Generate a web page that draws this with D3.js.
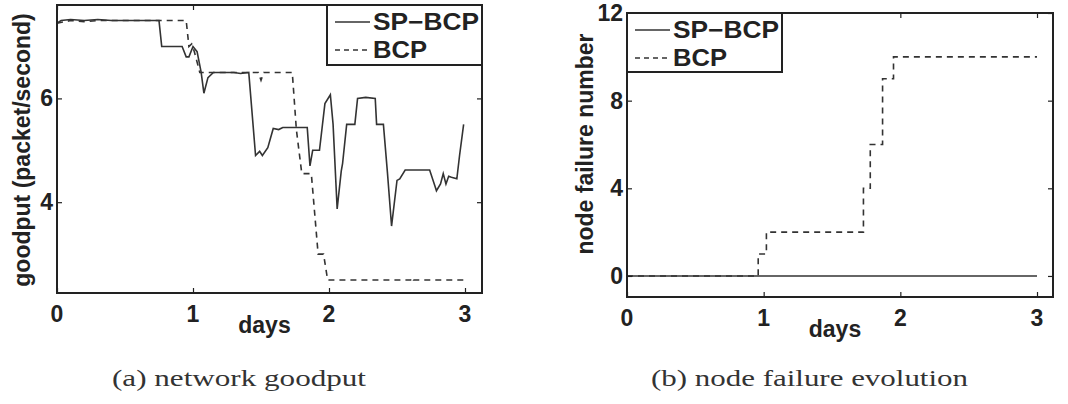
<!DOCTYPE html>
<html>
<head>
<meta charset="utf-8">
<script src="https://cdn.jsdelivr.net/npm/d3@7"></script>
<style>
  body { margin: 0; background: #fff; }
  svg { display: block; }
  text { font-family: "Liberation Sans", Arial, sans-serif; font-weight: bold; fill: #222; }
  .cap { font-family: "Liberation Serif", "Times New Roman", serif; font-weight: normal; }
</style>
</head>
<body>
<svg id="chart" width="1068" height="404"></svg>
<script>
// goodput (packet/second) vs days
const spDays =  [0, 0.03, 0.1, 0.2, 0.3, 0.4, 0.5, 0.6, 0.75, 0.77, 0.92, 0.95, 0.97, 1.0, 1.03, 1.06, 1.08, 1.11, 1.15, 1.3, 1.35, 1.41,
  1.46, 1.49, 1.51, 1.55, 1.59, 1.63, 1.66, 1.84, 1.86, 1.88, 1.93, 1.97, 2.01, 2.03, 2.06, 2.09, 2.1, 2.13, 2.19, 2.21, 2.27, 2.34,
  2.35, 2.40, 2.43, 2.46, 2.50, 2.52, 2.56, 2.74, 2.78, 2.79, 2.82, 2.84, 2.86, 2.88, 2.90, 2.94, 2.96, 2.99]
const spGoodput = [7.45, 7.5, 7.52, 7.5, 7.52, 7.5, 7.5, 7.5, 7.5, 7.0, 7.0, 6.8, 6.8, 7.0, 6.9, 6.5, 6.1, 6.4, 6.5, 6.5, 6.48, 6.5,
  4.9, 4.98, 4.9, 5.05, 5.42, 5.4, 5.44, 5.44, 4.7, 5.0, 5.0, 5.9, 6.07, 5.5, 3.87, 4.6, 4.75, 5.5, 5.5, 6.0, 6.02, 6.0,
  5.5, 5.5, 4.56, 3.54, 4.42, 4.45, 4.62, 4.62, 4.3, 4.22, 4.35, 4.55, 4.35, 4.5, 4.48, 4.45, 4.9, 5.5]

const bcpDays =    [0, 0.1, 0.2, 0.3, 0.5, 0.7, 0.95, 0.97, 0.99, 1.01, 1.05, 1.48, 1.50, 1.52, 1.73, 1.76, 1.80, 1.87, 1.92, 1.96, 1.99, 2.6, 2.61, 2.62, 3.0]
const bcpGoodput = [7.45, 7.5, 7.48, 7.5, 7.5, 7.5, 7.5, 7.0, 7.05, 6.9, 6.5, 6.5, 6.35, 6.5, 6.5, 5.4, 4.55, 4.55, 3.0, 3.0, 2.5, 2.5, 2.55, 2.5, 2.5]

// node failure number vs days (step changes)
const spFailDays = [0, 3]
const spFailures = [0, 0]
const bcpFailDays = [0, 0.96, 1.02, 1.73, 1.78, 1.87, 1.95, 3.0]
const bcpFailures = [0, 1, 2, 4, 6, 9, 10, 10]

const goodputTicks = [4, 6]
const failureTicks = [0, 4, 8, 12]
const dayTicks = [0, 1, 2, 3]
const seriesNames = ['SP\u2212BCP', 'BCP']
const captions = ['(a) network goodput', '(b) node failure evolution']

const svg = d3.select('#chart')
const ink = '#222'

function panel(opt) {
  const x = d3.scaleLinear().domain(opt.xDomain).range([opt.left, opt.right])
  const y = d3.scaleLinear().domain(opt.yDomain).range([opt.bottom, opt.top])
  const g = svg.append('g')

  // series
  const line = d3.line().x(d => x(d[0])).y(d => y(d[1])).curve(opt.curve || d3.curveLinear)
  opt.series.forEach((s, i) => {
    g.append('path')
      .datum(d3.zip(s.days, s.vals))
      .attr('fill', 'none')
      .attr('stroke', '#333')
      .attr('stroke-width', 1.6)
      .attr('stroke-dasharray', i === 1 ? '6,5' : null)
      .attr('d', line)
  })

  // axes with inside ticks on all four sides (matlab style)
  const tl = 5
  g.append('g').attr('transform', `translate(0,${opt.bottom})`)
    .call(d3.axisBottom(x).tickValues(dayTicks).tickSizeInner(-tl).tickSizeOuter(0).tickFormat(''))
  g.append('g').attr('transform', `translate(0,${opt.top})`)
    .call(d3.axisTop(x).tickValues(dayTicks).tickSizeInner(-tl).tickSizeOuter(0).tickFormat(''))
  g.append('g').attr('transform', `translate(${opt.left},0)`)
    .call(d3.axisLeft(y).tickValues(opt.yTicks).tickSizeInner(-tl).tickSizeOuter(0).tickFormat(''))
  g.append('g').attr('transform', `translate(${opt.right},0)`)
    .call(d3.axisRight(y).tickValues(opt.yTicks).tickSizeInner(-tl).tickSizeOuter(0).tickFormat(''))
  g.selectAll('.domain').remove()
  g.selectAll('.tick line').attr('stroke', ink).attr('stroke-width', 1.2)

  g.append('rect')
    .attr('x', opt.left).attr('y', opt.top)
    .attr('width', opt.right - opt.left).attr('height', opt.bottom - opt.top)
    .attr('fill', 'none').attr('stroke', ink).attr('stroke-width', 2)

  // tick labels
  g.selectAll('.xl').data(dayTicks).join('text')
    .attr('x', d => x(d)).attr('y', opt.bottom + 29)
    .attr('text-anchor', 'middle').style('font-size', '23px')
    .text(d => d)
  g.selectAll('.yl').data(opt.yTicks).join('text')
    .attr('x', opt.left - 4).attr('y', d => y(d) + 8)
    .attr('text-anchor', 'end').style('font-size', '23px')
    .text(d => d)

  // axis titles
  g.append('text')
    .attr('x', (opt.left + opt.right) / 2 - 5).attr('y', opt.bottom + 40)
    .attr('text-anchor', 'middle').style('font-size', '23px')
    .text('days')
  g.append('text')
    .attr('transform', `translate(${opt.yLabelX},${opt.yLabelY}) rotate(-90)`)
    .attr('text-anchor', 'middle').style('font-size', '23px')
    .text(opt.yLabel)

  // legend
  const lg = opt.legend
  g.append('rect')
    .attr('x', lg.x).attr('y', opt.top).attr('width', lg.w).attr('height', lg.h)
    .attr('fill', '#fff').attr('stroke', ink).attr('stroke-width', 2)
  seriesNames.forEach((name, i) => {
    const yy = opt.top + 17 + i * 28
    g.append('line')
      .attr('x1', lg.x + 8).attr('x2', lg.x + 43).attr('y1', yy).attr('y2', yy)
      .attr('stroke', '#333').attr('stroke-width', 1.6)
      .attr('stroke-dasharray', i === 1 ? '5,4' : null)
    g.append('text')
      .attr('x', lg.x + 46).attr('y', yy + 8)
      .style('font-size', '23px')
      .attr('textLength', i === 0 ? 106 : 54).attr('lengthAdjust', 'spacingAndGlyphs')
      .text(name)
  })

  svg.append('text').attr('class', 'cap')
    .attr('x', opt.capX).attr('y', 386)
    .style('font-size', '24px').style('fill', '#333')
    .attr('textLength', opt.capW).attr('lengthAdjust', 'spacingAndGlyphs')
    .text(opt.caption)
}

panel({
  left: 57, right: 482, top: 5, bottom: 293,
  xDomain: [0, 3.125], yDomain: [2.25, 7.8], yTicks: goodputTicks,
  series: [{ days: spDays, vals: spGoodput }, { days: bcpDays, vals: bcpGoodput }],
  yLabel: 'goodput (packet/second)', yLabelX: 30, yLabelY: 150,
  legend: { x: 327, w: 155, h: 60 },
  caption: captions[0], capX: 112, capW: 254
})

panel({
  left: 627, right: 1053, top: 13, bottom: 297,
  xDomain: [0, 3.117], yDomain: [-0.96, 12], yTicks: failureTicks,
  series: [{ days: spFailDays, vals: spFailures }, { days: bcpFailDays, vals: bcpFailures }],
  curve: d3.curveStepAfter,
  yLabel: 'node failure number', yLabelX: 593, yLabelY: 144,
  legend: { x: 627, w: 155, h: 59 },
  caption: captions[1], capX: 651, capW: 317
})
</script>
</body>
</html>
